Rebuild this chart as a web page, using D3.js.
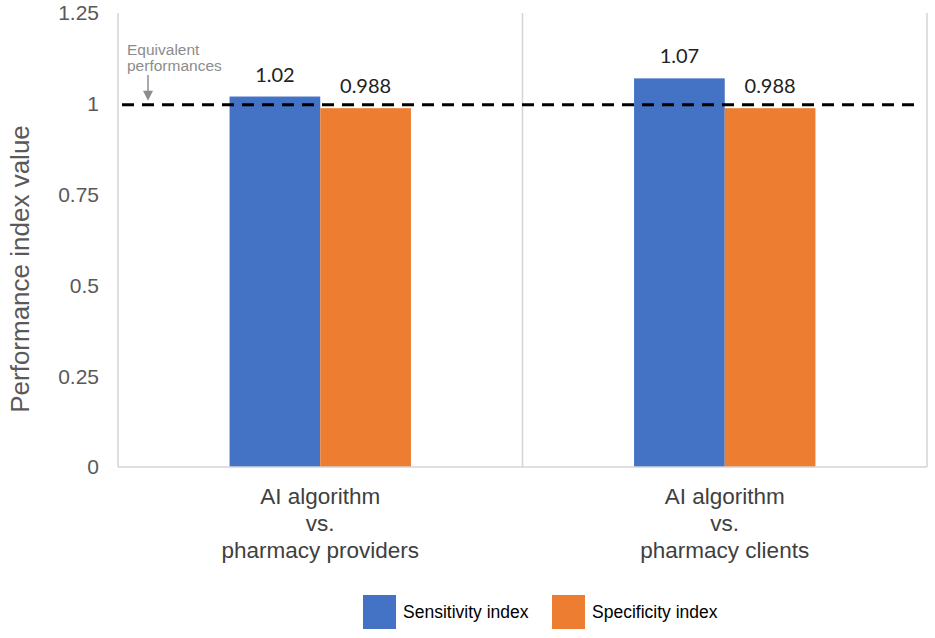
<!DOCTYPE html>
<html>
<head>
<meta charset="utf-8">
<script src="https://cdn.jsdelivr.net/npm/d3@7"></script>
<style>
  body { margin: 0; background: #fff; }
  svg { display: block; }
</style>
</head>
<body>
<svg width="935" height="638"></svg>
<script>
const categories = [
  ["AI algorithm", "vs.", "pharmacy providers"],
  ["AI algorithm", "vs.", "pharmacy clients"]
];
const seriesNames = ["Sensitivity index", "Specificity index"];
const sensitivity = [1.02, 1.07];
const specificity = [0.988, 0.988];
const labels = [["1.02", "0.988"], ["1.07", "0.988"]];
const yTicks = [0, 0.25, 0.5, 0.75, 1, 1.25];
const referenceValue = 1;

const colors = ["#4472C4", "#ED7D31"];

const svg = d3.select("svg"),
      margin = {top: 13, right: 8, bottom: 171, left: 118},
      width = +svg.attr("width") - margin.left - margin.right,
      height = +svg.attr("height") - margin.top - margin.bottom;

const g = svg.append("g").attr("transform", `translate(${margin.left},${margin.top})`);

const x = d3.scaleBand()
  .domain(d3.range(categories.length))
  .range([0, width]);

const xInner = d3.scaleBand()
  .domain(d3.range(seriesNames.length))
  .range([0, x.bandwidth()])
  .paddingInner(0)
  .paddingOuter(1.23);

const y = d3.scaleLinear()
  .domain([0, 1.25])
  .range([height, 0]);

// category separators
g.selectAll("line.sep")
  .data(d3.range(categories.length + 1))
  .enter().append("line")
    .attr("x1", d => d * x.bandwidth())
    .attr("x2", d => d * x.bandwidth())
    .attr("y1", 0)
    .attr("y2", height)
    .attr("stroke", "#d4d4d4")
    .attr("stroke-width", 1.5);

// y tick labels
g.selectAll("text.ytick")
  .data(yTicks)
  .enter().append("text")
    .attr("x", -19)
    .attr("y", d => y(d))
    .attr("dy", "0.35em")
    .attr("text-anchor", "end")
    .attr("font-family", "Liberation Sans, Arial, sans-serif")
    .attr("font-size", 21)
    .attr("fill", "#595959")
    .text(d => d);

// bars
const rows = categories.map((c, i) => [sensitivity[i], specificity[i]]);
const groups = g.selectAll("g.grp")
  .data(rows)
  .enter().append("g")
    .attr("transform", (d, i) => `translate(${x(i)},0)`);

groups.selectAll("rect")
  .data(d => d)
  .enter().append("rect")
    .attr("x", (d, j) => xInner(j))
    .attr("y", d => y(d))
    .attr("width", xInner.bandwidth())
    .attr("height", d => height - y(d))
    .attr("fill", (d, j) => colors[j]);

groups.selectAll("text.val")
  .data((d, i) => d.map((v, j) => ({v, j, lab: labels[i][j]})))
  .enter().append("text")
    .attr("x", d => xInner(d.j) + xInner.bandwidth() / 2)
    .attr("y", d => y(d.v) - 15)
    .attr("text-anchor", "middle")
    .attr("font-family", "Lato, sans-serif")
    .attr("font-size", 20)
    .attr("fill", "#222")
    .text(d => d.lab);

// baseline
g.append("line")
  .attr("x1", 0).attr("x2", width)
  .attr("y1", height).attr("y2", height)
  .attr("stroke", "#d4d4d4")
  .attr("stroke-width", 1.5);

// reference dashed line
g.append("line")
  .attr("x1", 4).attr("x2", width - 6)
  .attr("y1", y(referenceValue) + 1).attr("y2", y(referenceValue) + 1)
  .attr("stroke", "#000")
  .attr("stroke-width", 3)
  .attr("stroke-dasharray", "12,8");

// annotation
const ann = g.append("g").attr("fill", "#8c8c8c")
  .attr("font-family", "Liberation Sans, Arial, sans-serif")
  .attr("font-size", 15.5);
ann.append("text").attr("x", 9).attr("y", 42).text("Equivalent");
ann.append("text").attr("x", 9).attr("y", 58).text("performances");
g.append("line")
  .attr("x1", 30).attr("x2", 30)
  .attr("y1", 62).attr("y2", y(referenceValue) - 12)
  .attr("stroke", "#8c8c8c").attr("stroke-width", 1.5);
g.append("path")
  .attr("d", `M${25},${y(referenceValue) - 13} L${35},${y(referenceValue) - 13} L${30},${y(referenceValue) - 3} Z`)
  .attr("fill", "#8c8c8c");

// x labels
g.selectAll("text.xlab")
  .data(categories)
  .enter().append("text")
    .attr("x", (d, i) => x(i) + x.bandwidth() / 2)
    .attr("y", height + 37)
    .attr("text-anchor", "middle")
    .attr("font-family", "Liberation Sans, Arial, sans-serif")
    .attr("font-size", 22.5)
    .attr("fill", "#404040")
    .each(function(d) {
      d3.select(this).selectAll("tspan")
        .data(d)
        .enter().append("tspan")
          .attr("x", d3.select(this).attr("x"))
          .attr("dy", (t, k) => k === 0 ? 0 : 27)
          .text(t => t);
    });

// y axis title
svg.append("text")
  .attr("transform", "translate(29,269) rotate(-90)")
  .attr("text-anchor", "middle")
  .attr("font-family", "Liberation Sans, Arial, sans-serif")
  .attr("font-size", 26)
  .attr("fill", "#595959")
  .text("Performance index value");

// legend
const legendX = [363, 552];
const legend = svg.selectAll("g.leg")
  .data(seriesNames)
  .enter().append("g")
    .attr("transform", (d, i) => `translate(${legendX[i]},595)`);
legend.append("rect")
  .attr("width", 33).attr("height", 34)
  .attr("fill", (d, i) => colors[i]);
legend.append("text")
  .attr("x", 40).attr("y", 17).attr("dy", "0.35em")
  .attr("font-family", "Liberation Sans, Arial, sans-serif")
  .attr("font-size", 17.5)
  .attr("fill", "#000")
  .text(d => d);
</script>
</body>
</html>
